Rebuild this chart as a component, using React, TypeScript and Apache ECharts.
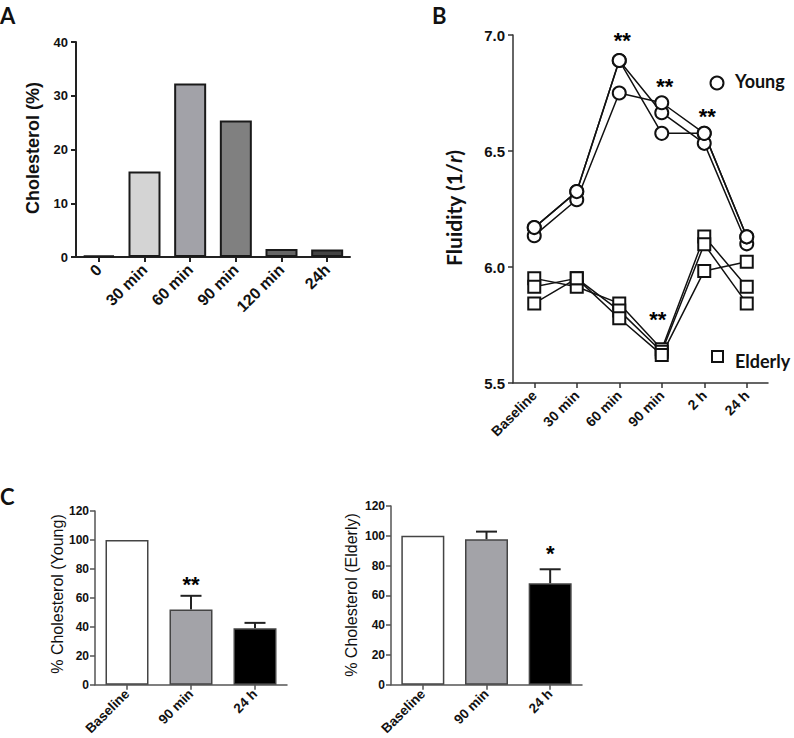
import React, { useEffect, useRef } from 'react';
import * as echarts from 'echarts';

// Panel A
const catsA = ['0', '30 min', '60 min', '90 min', '120 min', '24h'];
const cholA = [0.3, 15.9, 32.3, 25.4, 1.5, 1.4];
const colorsA = ['#333333', '#d4d4d4', '#a2a2a8', '#808080', '#666666', '#444444'];
const ticksA = [0, 10, 20, 30, 40];

// Panel B
const catsB = ['Baseline', '30 min', '60 min', '90 min', '2 h', '24 h'];
const young1 = [6.17, 6.325, 6.89, 6.665, 6.533, 6.1];
const young2 = [6.135, 6.29, 6.75, 6.708, 6.576, 6.13];
const young3 = [6.17, 6.325, 6.89, 6.576, 6.576, 6.13];
const elderly1 = [5.951, 5.915, 5.843, 5.645, 6.131, 5.915];
const elderly2 = [5.915, 5.951, 5.812, 5.635, 6.098, 5.843];
const elderly3 = [5.843, 5.951, 5.779, 5.621, 5.983, 6.023];
const starCatsB = ['60 min', '90 min', '2 h', '90 min'];
const starValsB = [6.975, 6.78, 6.65, 5.775];
const starTextB = ['**', '**', '**', '**'];

// Panel C
const catsC = ['Baseline', '90 min', '24 h'];
const youngPct = [100, 51.9, 39.0];
const youngErr = [0, 9.5, 3.7];
const elderlyPct = [100, 97.6, 68.1];
const elderlyErr = [0, 5.2, 9.4];
const colorsC = ['#ffffff', '#a3a3a8', '#000000'];
const starCatC1 = ['90 min'];
const starValC1 = [69];
const starTextC1 = ['**'];
const starCatC2 = ['24 h'];
const starValC2 = [88];
const starTextC2 = ['*'];

const FONT = '"Liberation Sans", Arial, sans-serif';
const TFONT = 'Lato, "Liberation Sans", sans-serif';

function catAxis(gridIndex: number, data: string[], fontSize: number, color: string, width: number, margin: number) {
  return {
    type: 'category',
    gridIndex,
    data,
    axisLine: { show: true, lineStyle: { color, width } },
    axisTick: { show: true, alignWithLabel: true, length: 5, lineStyle: { color, width } },
    axisLabel: {
      rotate: 45,
      fontSize,
      fontWeight: 'bold',
      fontFamily: FONT,
      color: '#111',
      margin,
      interval: 0,
    },
    splitLine: { show: false },
  };
}

function valAxis(gridIndex: number, min: number, max: number, interval: number, fontSize: number, color: string, width: number, decimals: number, margin: number) {
  return {
    type: 'value',
    gridIndex,
    min,
    max,
    interval,
    axisLine: { show: true, lineStyle: { color, width } },
    axisTick: { show: true, length: 5, lineStyle: { color, width } },
    axisLabel: {
      fontSize,
      fontWeight: 'bold',
      fontFamily: FONT,
      color: '#111',
      margin,
      formatter: (v: number) => v.toFixed(decimals),
    },
    splitLine: { show: false },
  };
}

function lineSeries(data: number[], symbol: string) {
  return {
    type: 'line',
    xAxisIndex: 1,
    yAxisIndex: 1,
    data,
    symbol,
    symbolSize: symbol === 'rect' ? 12 : 13,
    itemStyle: { color: '#ffffff', borderColor: '#111', borderWidth: 2 },
    lineStyle: { color: '#111', width: 1.5 },
    z: 3,
  };
}

function errSeries(axisIndex: number, means: number[], errs: number[]) {
  return {
    type: 'custom',
    xAxisIndex: axisIndex,
    yAxisIndex: axisIndex,
    data: means.map((m, i) => [i, m, m + errs[i]]).filter((d) => d[2] > d[1]),
    encode: { x: 0, y: 2 },
    renderItem: (_params: any, api: any) => {
      const base = api.coord([api.value(0), api.value(1)]);
      const top = api.coord([api.value(0), api.value(2)]);
      return {
        type: 'group',
        children: [
          { type: 'line', shape: { x1: base[0], y1: base[1], x2: top[0], y2: top[1] }, style: { stroke: '#222', lineWidth: 2 } },
          { type: 'line', shape: { x1: top[0] - 10.5, y1: top[1], x2: top[0] + 10.5, y2: top[1] }, style: { stroke: '#222', lineWidth: 2 } },
        ],
      };
    },
    z: 1,
  };
}

function starSeries(axisIndex: number, cats: string[], vals: number[], texts: string[], offsets?: number[][]) {
  return {
    type: 'scatter',
    xAxisIndex: axisIndex,
    yAxisIndex: axisIndex,
    data: cats.map((c, i) => ({
      value: [c, vals[i]],
      label: { offset: offsets ? offsets[i] : [0, 0] },
    })),
    symbolSize: 1,
    itemStyle: { color: 'rgba(0,0,0,0)' },
    label: {
      show: true,
      position: 'inside',
      formatter: (p: any) => texts[p.dataIndex],
      fontSize: 22,
      fontWeight: 'bold',
      fontFamily: FONT,
      color: '#000',
      textBorderWidth: 0,
      opacity: 1,
    },
    silent: true,
    z: 5,
  };
}

function barSeries(axisIndex: number, data: number[], colors: string[], barWidth: number, borderColor: string, borderWidth: number) {
  return {
    type: 'bar',
    xAxisIndex: axisIndex,
    yAxisIndex: axisIndex,
    barWidth,
    data: data.map((v, i) => ({ value: v, itemStyle: { color: colors[i], borderColor, borderWidth } })),
    z: 2,
  };
}

function vTitle(x: number, y: number, text: string, fontSize: number, fontWeight: string, fontFamily: string, rich?: any) {
  return {
    type: 'text',
    x,
    y,
    rotation: Math.PI / 2,
    style: {
      text,
      fontSize,
      fontWeight,
      fontFamily,
      fill: '#111',
      align: 'center',
      verticalAlign: 'middle',
      rich,
    },
  };
}

function panelLetter(x: number, y: number, text: string) {
  return {
    type: 'text',
    x,
    y,
    style: { text, fontSize: 22, fontWeight: 'bold', fontFamily: TFONT, fill: '#111', align: 'left', verticalAlign: 'middle' },
  };
}

const option: any = {
  animation: false,
  backgroundColor: '#ffffff',
  textStyle: { fontFamily: FONT },
  grid: [
    { left: 76, top: 42, width: 274, height: 215 },
    { left: 513, top: 35, width: 255, height: 348 },
    { left: 95, top: 511, width: 192, height: 177 },
    { left: 391, top: 506, width: 191, height: 179 },
  ],
  xAxis: [
    catAxis(0, catsA, 16, '#222', 2, 10),
    catAxis(1, catsB, 14, '#333', 1.5, 10),
    catAxis(2, catsC, 13.5, '#555', 1.5, 7),
    catAxis(3, catsC, 13.5, '#555', 1.5, 7),
  ],
  yAxis: [
    valAxis(0, ticksA[0], ticksA[ticksA.length - 1], 10, 13, '#222', 2, 0, 8),
    valAxis(1, 5.5, 7.0, 0.5, 15, '#333', 1.5, 1, 8),
    valAxis(2, 0, 120, 20, 12, '#555', 1.5, 0, 6),
    valAxis(3, 0, 120, 20, 12, '#555', 1.5, 0, 6),
  ],
  series: [
    barSeries(0, cholA, colorsA, 32, '#1a1a1a', 2),
    lineSeries(young1, 'circle'),
    lineSeries(young2, 'circle'),
    lineSeries(young3, 'circle'),
    lineSeries(elderly1, 'rect'),
    lineSeries(elderly2, 'rect'),
    lineSeries(elderly3, 'rect'),
    starSeries(1, starCatsB, starValsB, starTextB, [[3, 0], [3, 0], [3, 0], [-4, 0]]),
    barSeries(2, youngPct, colorsC, 43, '#444', 1.5),
    errSeries(2, youngPct, youngErr),
    starSeries(2, starCatC1, starValC1, starTextC1),
    barSeries(3, elderlyPct, colorsC, 43, '#444', 1.5),
    errSeries(3, elderlyPct, elderlyErr),
    starSeries(3, starCatC2, starValC2, starTextC2),
  ],
  graphic: [
    panelLetter(0, 15, 'A'),
    panelLetter(432, 15, 'B'),
    panelLetter(0, 496, 'C'),
    vTitle(33, 148, 'Cholesterol (%)', 18, 'bold', FONT),
    vTitle(453, 208, '{a|Fluidity (1/}{b|r}{a|)}', 21, 'bold', TFONT, {
      a: { fontSize: 21, fontWeight: 'bold', fontFamily: TFONT, fill: '#111' },
      b: { fontSize: 21, fontWeight: 'bold', fontStyle: 'italic', fontFamily: TFONT, fill: '#111' },
    }),
    vTitle(57, 594, '% Cholesterol (Young)', 16, 'normal', FONT),
    vTitle(351, 595, '% Cholesterol (Elderly)', 16, 'normal', FONT),
    { type: 'circle', shape: { cx: 717, cy: 83, r: 6.5 }, style: { fill: '#fff', stroke: '#111', lineWidth: 2 } },
    { type: 'text', x: 735, y: 81, style: { text: 'Young', fontSize: 18, fontWeight: 'bold', fontFamily: TFONT, fill: '#111', align: 'left', verticalAlign: 'middle' } },
    { type: 'rect', shape: { x: 712, y: 351, width: 11, height: 11 }, style: { fill: '#fff', stroke: '#111', lineWidth: 2 } },
    { type: 'text', x: 735, y: 361, style: { text: 'Elderly', fontSize: 18, fontWeight: 'bold', fontFamily: TFONT, fill: '#111', align: 'left', verticalAlign: 'middle' } },
  ],
};

export default function App() {
  const ref = useRef<HTMLDivElement>(null);
  useEffect(() => {
    if (!ref.current) return;
    const chart = echarts.init(ref.current, null, { renderer: 'svg' });
    chart.setOption(option);
    return () => chart.dispose();
  }, []);
  return (
    <div
      ref={ref}
      style={{ position: 'fixed', left: 0, top: 0, width: 794, height: 738, background: '#fff' }}
    />
  );
}
